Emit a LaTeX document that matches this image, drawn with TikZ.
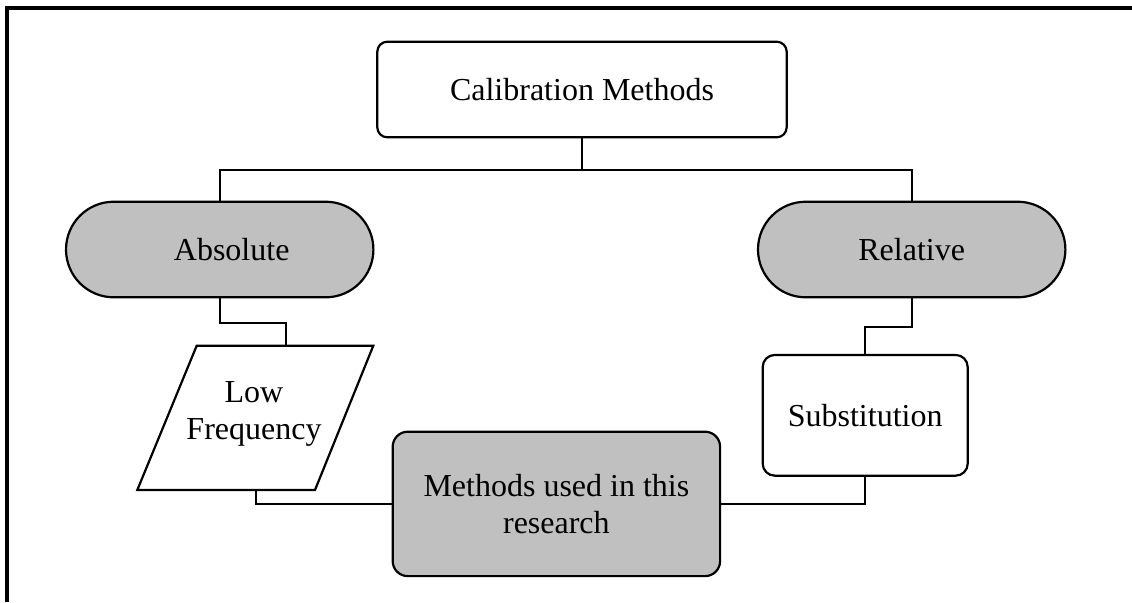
\documentclass[tikz,border=0pt]{standalone}
\usepackage{fontspec}
\setmainfont{Liberation Serif}
\usetikzlibrary{shapes.misc}
\definecolor{shade}{HTML}{C0C0C0}
\begin{document}
\begin{tikzpicture}[x=0.5pt, y=-0.5pt, line width=1.1pt,
  every node/.style={font=\fontsize{16}{18.4}\selectfont, align=center, inner sep=0pt},
  box/.style={draw, fill=white, rounded corners=#1},
  box/.default=5pt,
  pill/.style={draw, fill=shade, rounded rectangle, minimum width=153.7pt, minimum height=47.8pt},
  link/.style={draw, line width=1.1pt},
  frame/.style={line width=1.6pt}]

  % page area
  \useasboundingbox (0,0) rectangle (1132,602);
  \fill[white] (0,0) rectangle (1132,602);

  % outer frame (top and left edges)
  \draw[frame] (7,602) -- (7,8) -- (1132,8);

  % top level
  \node[box=5pt, minimum width=204.7pt, minimum height=47.8pt] (cal) at (582,89.5) {Calibration Methods};

  % two families (label in the left one sits a little right of centre)
  \node[pill] (abs) at (219.7,249.5) {\hspace*{12pt}Absolute};
  \node[pill] (rel) at (911.7,249.5) {Relative};

  % low frequency parallelogram
  \draw[fill=white] (196.7,345.7) -- (373.3,345.7) -- (315,490) -- (137.3,490) -- cycle;
  \node (low) at (254,414) {Low\\Frequency};
  \coordinate (lowtop) at (285.7,345.7);
  \coordinate (lowbot) at (256,490);

  % substitution
  \node[box=6pt, minimum width=102.5pt, minimum height=60.35pt] (sub) at (865.2,415.3) {Substitution};

  % methods used
  \node[box=7.5pt, fill=shade, minimum width=163.7pt, minimum height=72.2pt] (meth) at (556.4,503.9) {Methods used in this\\research};

  % bus below the top box
  \coordinate (bus) at (582,170);

  % connectors
  \draw[link] (cal.south) -- (bus);
  \draw[link] (abs.north) |- (bus) -| (rel.north);
  \draw[link] (abs.south) -- ++(0,24.4) -| (lowtop);
  \draw[link] (rel.south) -- ++(0,28.4) -| (sub.north);
  \draw[link] (lowbot) |- (meth.west);
  \draw[link] (sub.south) |- (meth.east);
\end{tikzpicture}
\end{document}
